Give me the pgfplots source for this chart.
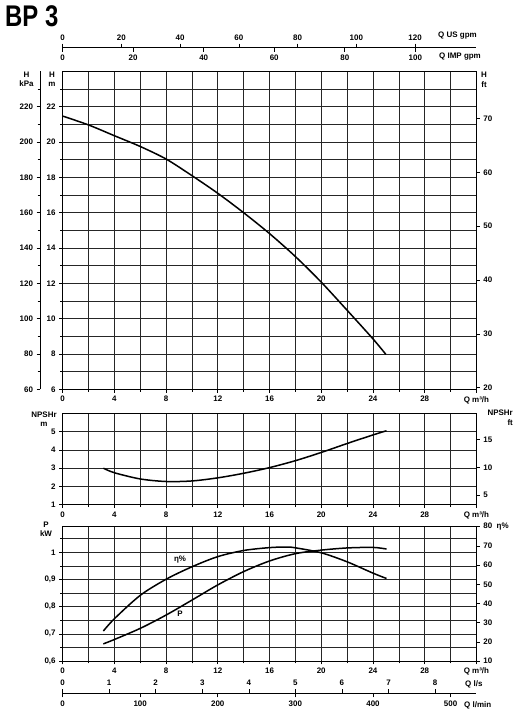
\documentclass[border=0pt]{standalone}
\usepackage{fontspec}
\setmainfont{Liberation Sans}
\usepackage{pgfplots}
\pgfplotsset{compat=1.18}
\begin{document}
\begin{tikzpicture}[x=1bp,y=1bp]
\useasboundingbox (0,0) rectangle (524,722);
\pgfplotsset{
  base/.style={scale only axis, width=413.8bp, xmin=0, xmax=32, anchor=south west,
    /pgf/number format/assume math mode=true,
    tick label style={font=\fontsize{8}{9}\selectfont\bfseries},
    axis line style={line width=0.8bp,-},
    tick style={line width=0.6bp, black},
    major tick length=3.5bp, minor tick length=2.5bp,
    tick align=outside},
  gridax/.style={base, xtick={0,4,...,32}, minor xtick={2,6,...,30},
    xticklabels={0,4,8,12,16,20,24,28,Q m³/h},
    grid=both, major grid style={black!85,line width=0.6bp},
    minor grid style={black!85,line width=0.6bp},
    xtick pos=bottom, ytick pos=left},
  over/.style={base, hide x axis, axis y line*=right},
  curve/.style={black, line width=1.5bp, smooth, no marks},
}
\tikzset{lab/.style={font=\fontsize{8}{9.5}\selectfont\bfseries, inner sep=0pt}}

% Title
\node[anchor=north west, inner sep=0pt] at (5,717) {\scalebox{0.8}[1]{\fontsize{30}{30}\selectfont\bfseries BP 3}};

% ---- top flow scales
\begin{axis}[base, at={(62.6bp,674.3bp)}, anchor=north west, height=10bp,
  xmin=0, xmax=140.89, ymin=0, ymax=1, hide y axis, axis x line*=top,
  xtick={0,20,...,120}, major tick length=4bp]
\end{axis}
\begin{axis}[base, at={(62.6bp,674.3bp)}, anchor=south west, height=10bp,
  xmin=0, xmax=117.32, ymin=0, ymax=1, hide y axis, axis x line*=bottom,
  xtick={0,20,...,100}, major tick length=4bp]
\end{axis}
\node[lab, anchor=west] at (438,686) {Q US gpm};
\node[lab, anchor=west] at (439,665) {Q IMP gpm};

% ---- head curve
\begin{axis}[gridax, at={(62.6bp,332.6bp)}, height=318bp, ymin=6, ymax=24,
  ytick={6,8,...,22}, minor ytick={7,9,...,23}]
\addplot[curve] coordinates {(0,21.47) (2,20.97) (4,20.36) (6,19.75) (8,19.04) (10,18.1)
  (12,17.1) (14,16.0) (16,14.82) (18,13.52) (20,12.07) (22,10.48) (24,8.86) (25,7.98)};
\end{axis}
\begin{axis}[over, at={(62.6bp,332.6bp)}, height=318bp, ymin=19.685, ymax=78.74,
  ytick={20,30,...,70}]
\end{axis}
\begin{axis}[base, at={(40bp,332.6bp)}, width=1bp, height=318bp, xmin=0, xmax=1,
  hide x axis, axis y line*=left, ymin=60, ymax=240,
  ytick={60,80,...,220}, minor ytick={70,90,...,230}]
\end{axis}
\node[lab, align=center] at (26.5,642.5) {H\\kPa};
\node[lab, align=center] at (52,642.5) {H\\m};
\node[lab, align=center] at (484,642) {H\\ft};

% ---- NPSH
\begin{axis}[gridax, at={(62.6bp,217.3bp)}, height=91.3bp, ymin=1, ymax=6,
  ytick={1,...,5}]
\addplot[curve] coordinates {(3.15,3.0) (4,2.75) (6,2.41) (8,2.27) (10,2.30) (12,2.47)
  (14,2.72) (16,3.03) (18,3.41) (20,3.86) (22,4.35) (24,4.82) (25.05,5.05)};
\end{axis}
\begin{axis}[over, at={(62.6bp,217.3bp)}, height=91.3bp, ymin=3.2808, ymax=19.685,
  ytick={5,10,15}]
\end{axis}
\node[lab, align=center] at (44,303) {NPSHr\\m};
\node[lab, align=right, anchor=north east] at (513,312) {NPSHr\\ft};

% ---- power and efficiency
\begin{axis}[gridax, at={(62.6bp,61bp)}, height=134.3bp, ymin=0.6, ymax=1.0942,
  ytick={0.6,0.7,0.8,0.9,1.0}, yticklabels={{0,6},{0,7},{0,8},{0,9},1},
  minor ytick={0.65,0.75,0.85,0.95,1.05}]
\addplot[curve] coordinates {(3.15,0.663) (4,0.679) (6,0.720) (8,0.769) (10,0.824)
  (12,0.880) (14,0.929) (16,0.968) (18,0.995) (20,1.008) (22,1.016) (24,1.018) (25.05,1.012)};
\node[lab] at (axis cs:9.08,0.773) {P};
\node[lab] at (axis cs:9.08,0.972) {η\%};
\end{axis}
\begin{axis}[over, at={(62.6bp,61bp)}, height=134.3bp, ymin=10, ymax=80,
  ytick={10,20,...,80}, yticklabels={10,20,30,40,50,60,70,{80\ \ η\%}}]
\addplot[curve] coordinates {(3.15,25.6) (4,32.0) (6,44.2) (8,52.6) (10,59.1) (12,64.4)
  (14,67.6) (16,69.1) (17.3,69.4) (18,69.0) (20,66.4) (22,61.7) (24,55.8) (25.05,53.0)};
\end{axis}
\node[lab, align=center] at (46,193) {P\\kW};

% ---- bottom flow scales
\begin{axis}[base, at={(62.6bp,28.7bp)}, anchor=north west, height=10bp,
  xmin=0, xmax=8.889, ymin=0, ymax=1, hide y axis, axis x line*=top,
  xtick={0,...,8}, major tick length=4bp]
\end{axis}
\begin{axis}[base, at={(62.6bp,28.7bp)}, anchor=south west, height=10bp,
  xmin=0, xmax=533.33, ymin=0, ymax=1, hide y axis, axis x line*=bottom,
  xtick={0,100,...,500}, major tick length=4bp]
\end{axis}
\node[lab, anchor=west] at (465,38) {Q l/s};
\node[lab, anchor=west] at (464,17) {Q l/min};
\end{tikzpicture}
\end{document}
